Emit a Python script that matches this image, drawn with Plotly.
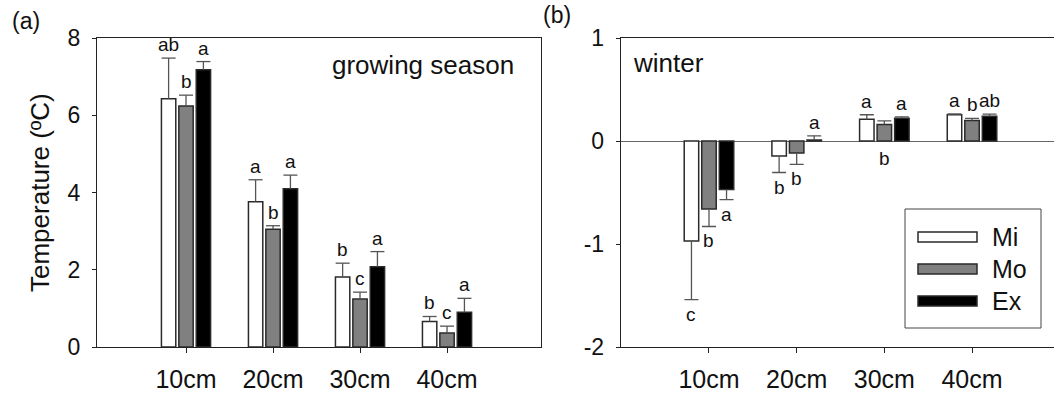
import plotly.graph_objects as go

# ---------------- data ----------------
depths = ["10cm", "20cm", "30cm", "40cm"]
series = ["Mi", "Mo", "Ex"]

# growing season (a)
gs_mi = [6.43, 3.76, 1.81, 0.66]
gs_mo = [6.24, 3.05, 1.24, 0.36]
gs_ex = [7.18, 4.10, 2.08, 0.90]
gs_mi_err = [1.05, 0.57, 0.36, 0.13]
gs_mo_err = [0.28, 0.09, 0.18, 0.18]
gs_ex_err = [0.21, 0.35, 0.39, 0.36]
gs_mi_let = ["ab", "a", "b", "b"]
gs_mo_let = ["b", "b", "c", "c"]
gs_ex_let = ["a", "a", "a", "a"]

# winter (b)
w_mi = [-0.97, -0.146, 0.21, 0.256]
w_mo = [-0.66, -0.117, 0.16, 0.20]
w_ex = [-0.47, 0.01, 0.22, 0.24]
w_mi_err = [0.57, 0.16, 0.045, 0.006]
w_mo_err = [0.17, 0.11, 0.035, 0.02]
w_ex_err = [0.10, 0.04, 0.015, 0.02]
w_mi_let = ["c", "b", "a", "a"]
w_mo_let = ["b", "b", "b", "b"]
w_ex_let = ["a", "a", "a", "ab"]

# where each letter sits: above the error bar, below it, or below the zero line
gs_place = [["up"] * 4, ["up"] * 4, ["up"] * 4]
w_place = [["down", "down", "up", "up"],
           ["down", "down", "base", "up"],
           ["down", "up", "up", "up"]]

# ---------------- style ----------------
W, H = 1054, 396
FONT = "Arial, Liberation Sans, sans-serif"
fills = ["#ffffff", "#808080", "#000000"]
outline = "#2a2a2a"
errc = "#555555"
offsets = [-0.2, 0.0, 0.2]


def px(x):
    return x / W


def py(y):
    return 1 - y / H


fig = go.Figure()
annotations = []

panels = [
    ("x", "y", [gs_mi, gs_mo, gs_ex], [gs_mi_err, gs_mo_err, gs_ex_err],
     [gs_mi_let, gs_mo_let, gs_ex_let], gs_place),
    ("x2", "y2", [w_mi, w_mo, w_ex], [w_mi_err, w_mo_err, w_ex_err],
     [w_mi_let, w_mo_let, w_ex_let], w_place),
]

xs = list(range(len(depths)))
for xa, ya, vals, errs, lets, places in panels:
    for j, name in enumerate(series):
        v = vals[j]
        e = errs[j]
        plus = [ee if vv >= 0 else 0 for vv, ee in zip(v, e)]
        minus = [0 if vv >= 0 else ee for vv, ee in zip(v, e)]
        caps = [vv + ee if vv >= 0 else vv - ee for vv, ee in zip(v, e)]
        fig.add_trace(go.Bar(
            x=xs, y=v, name=name, xaxis=xa, yaxis=ya, showlegend=False,
            marker=dict(color=fills[j], line=dict(color=outline, width=1.5)),
            error_y=dict(type="data", symmetric=False, array=plus,
                         arrayminus=minus, width=0, thickness=1.3, color=errc),
        ))
        fig.add_trace(go.Scatter(
            x=[i + offsets[j] for i in xs], y=caps, mode="markers",
            xaxis=xa, yaxis=ya, showlegend=False, hoverinfo="skip",
            marker=dict(symbol="line-ew", size=10, color=errc,
                        line=dict(color=errc, width=1.3)),
        ))
        for i in xs:
            pl = places[j][i]
            if pl == "up":
                yy, anc, sh = caps[i], "bottom", 1
            elif pl == "down":
                yy, anc, sh = caps[i], "top", -2
            else:
                yy, anc, sh = 0, "top", -5
            annotations.append(dict(
                x=i + offsets[j], y=yy, xref=xa, yref=ya, text=lets[j][i],
                showarrow=False, yanchor=anc, xanchor="center", yshift=sh,
                font=dict(family=FONT, size=19, color="#111")))

# panel texts
annotations += [
    dict(x=px(10), y=py(21), xref="paper", yref="paper", text="(a)",
         showarrow=False, xanchor="left", yanchor="middle",
         font=dict(family=FONT, size=23, color="#111")),
    dict(x=px(541), y=py(15), xref="paper", yref="paper", text="(b)",
         showarrow=False, xanchor="left", yanchor="middle",
         font=dict(family=FONT, size=23, color="#111")),
    dict(x=px(330), y=py(65), xref="paper", yref="paper", text="growing season",
         showarrow=False, xanchor="left", yanchor="middle",
         font=dict(family=FONT, size=26, color="#111")),
    dict(x=px(631), y=py(63), xref="paper", yref="paper", text="winter",
         showarrow=False, xanchor="left", yanchor="middle",
         font=dict(family=FONT, size=26, color="#111")),
    dict(x=px(40), y=py(193), xref="paper", yref="paper", text="Temperature (ºC)",
         showarrow=False, xanchor="center", yanchor="middle", textangle=-90,
         font=dict(family=FONT, size=26, color="#111")),
]

# manual legend (wide flat swatches as in the reference)
shapes = [dict(type="rect", xref="paper", yref="paper",
               x0=px(905), x1=px(1041), y0=py(328), y1=py(209),
               line=dict(color="#444", width=1), fillcolor="white", layer="above")]
leg_y = [237, 269, 301]
for j, name in enumerate(series):
    shapes.append(dict(type="rect", xref="paper", yref="paper",
                       x0=px(918), x1=px(977), y0=py(leg_y[j] + 5), y1=py(leg_y[j] - 5),
                       line=dict(color=outline, width=1.5), fillcolor=fills[j],
                       layer="above"))
    annotations.append(dict(x=px(990), y=py(leg_y[j]), xref="paper", yref="paper",
                            text=name, showarrow=False, xanchor="left",
                            yanchor="middle",
                            font=dict(family=FONT, size=25, color="#111")))

ydom = [py(347), py(38)]
axis_common = dict(showgrid=False, zeroline=False, showline=True,
                   linecolor="#222", linewidth=1, ticks="outside",
                   tickcolor="#222", tickwidth=1, automargin=False)

fig.update_layout(
    width=W, height=H, margin=dict(l=0, r=0, t=0, b=0, autoexpand=False),
    paper_bgcolor="white", plot_bgcolor="white",
    barmode="group", bargap=0.4, bargroupgap=0.175,
    font=dict(family=FONT, color="#111"),
    annotations=annotations, shapes=shapes, showlegend=False,
    xaxis=dict(domain=[px(97), px(541)], range=[-1.023, 4.08], anchor="y",
               tickvals=xs, ticktext=depths, ticklen=5, mirror=True,
               tickfont=dict(size=25), ticklabelstandoff=5, **axis_common),
    yaxis=dict(domain=ydom, range=[0, 8], anchor="x",
               tickvals=[0, 2, 4, 6, 8], ticklen=4, mirror=True,
               tickfont=dict(size=23), ticklabelstandoff=7, **axis_common),
    xaxis2=dict(domain=[px(620.7), 1], range=[-1.007, 3.935], anchor="y2",
                tickvals=xs, ticktext=depths, ticklen=5, mirror=True,
                tickfont=dict(size=25), ticklabelstandoff=5, **axis_common),
    yaxis2=dict(domain=ydom, range=[-2, 1], anchor="x2",
                tickvals=[-2, -1, 0, 1], ticktext=["-2", "-1", "0", "1"],
                ticklen=4, tickfont=dict(size=23), ticklabelstandoff=7,
                **{**axis_common, "zeroline": True}, zerolinecolor="#666",
                zerolinewidth=1),
)

fig.write_html("out.html")
